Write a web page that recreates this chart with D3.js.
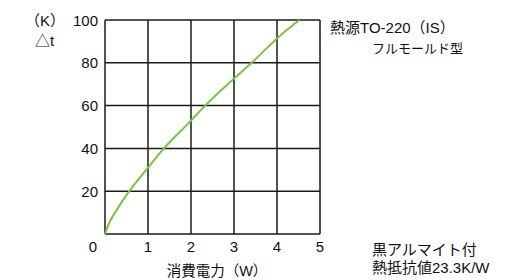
<!DOCTYPE html>
<html>
  <head>
    <script src="https://d3js.org/d3.v7.min.js"></script>
    <style>
      body { margin: 0; background: #fff; }
      text { font-family: "Liberation Sans", Arial, "Noto Sans CJK JP", sans-serif; fill: #111; }
    </style>
  </head>
  <body>
    <div id="chart"><svg width="518" height="280"></svg></div>
    <script>
      // values
      const power = [0, 0.1, 0.25, 0.565, 1, 1.37, 2, 2.33, 3, 3.41, 4, 4.52];
      const deltaT = [0, 5.3, 10.5, 20, 31, 40, 53, 60, 72.6, 80, 91.4, 100];
      const xTicks = [0, 1, 2, 3, 4, 5];
      const yTicks = [0, 20, 40, 60, 80, 100];

      const svg = d3.select('#chart').select('svg');
      const plotLeft = 105, plotRight = 320, plotTop = 20, plotBottom = 234;

      const x = d3.scaleLinear().domain([0, 5]).range([plotLeft, plotRight]);
      const y = d3.scaleLinear().domain([0, 100]).range([plotBottom, plotTop]);

      // grid
      svg.append('g')
        .selectAll('line')
        .data(xTicks)
        .join('line')
        .attr('x1', d => x(d)).attr('x2', d => x(d))
        .attr('y1', plotTop).attr('y2', plotBottom)
        .attr('stroke', '#1a1a1a').attr('stroke-width', 1.5);

      svg.append('g')
        .selectAll('line')
        .data(yTicks)
        .join('line')
        .attr('x1', plotLeft).attr('x2', plotRight)
        .attr('y1', d => y(d)).attr('y2', d => y(d))
        .attr('stroke', '#1a1a1a').attr('stroke-width', 1.5);

      // tick labels
      svg.append('g')
        .selectAll('text')
        .data(yTicks.filter(d => d > 0))
        .join('text')
        .attr('x', plotLeft - 7)
        .attr('y', d => y(d) + 5.5)
        .attr('text-anchor', 'end')
        .attr('font-size', 15)
        .text(d => d);

      svg.append('g')
        .selectAll('text')
        .data(xTicks)
        .join('text')
        .attr('x', d => d === 0 ? x(d) - 12 : x(d))
        .attr('y', 252)
        .attr('text-anchor', 'middle')
        .attr('font-size', 15)
        .text(d => d);

      // curve
      const pts = power.map((p, i) => [p, deltaT[i]]);
      svg.append('path')
        .datum(pts)
        .attr('fill', 'none')
        .attr('stroke', '#7cc242')
        .attr('stroke-width', 2)
        .attr('d', d3.line().x(d => x(d[0])).y(d => y(d[1])).curve(d3.curveMonotoneX));

      // labels
      svg.append('text').attr('x', 25).attr('y', 26).attr('font-size', 15).text('（K）');
      svg.append('text').attr('x', 35).attr('y', 46).attr('font-size', 15).text('△t');
      svg.append('text').attr('x', 217).attr('y', 276).attr('text-anchor', 'middle')
        .attr('font-size', 14.5).text('消費電力（W）');

      svg.append('text').attr('x', 330).attr('y', 33).attr('font-size', 15).text('熱源TO-220（IS）');
      svg.append('text').attr('x', 372).attr('y', 53).attr('font-size', 13).text('フルモールド型');
      svg.append('text').attr('x', 372).attr('y', 255).attr('font-size', 15).text('黒アルマイト付');
      svg.append('text').attr('x', 372).attr('y', 273).attr('font-size', 15).text('熱抵抗値23.3K/W');
    </script>
  </body>
</html>
